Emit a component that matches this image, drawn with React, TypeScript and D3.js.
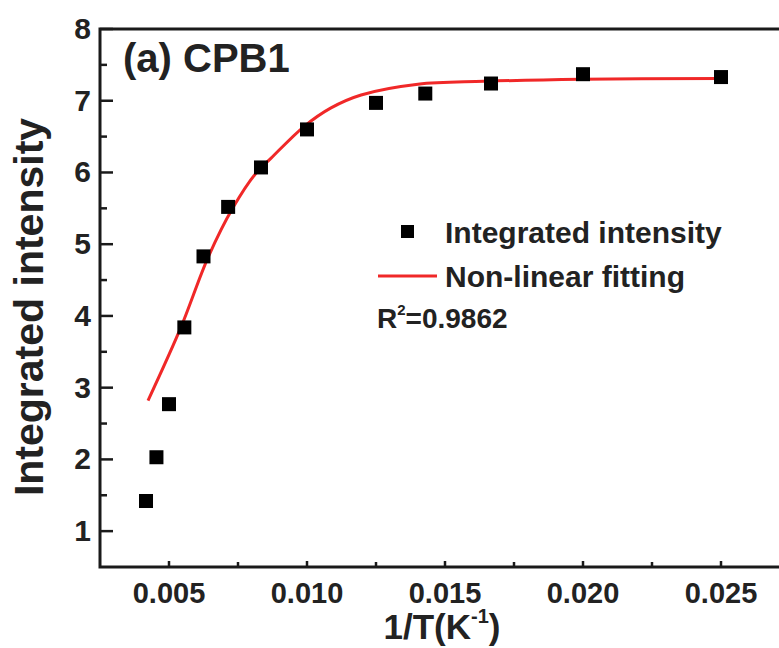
import React, { useEffect, useRef } from "react";
import * as d3 from "d3";

// measured points (1/T, integrated intensity)
const invT = [0.004167, 0.004545, 0.005, 0.005556, 0.00625, 0.007143, 0.008333, 0.01, 0.0125, 0.014286, 0.016667, 0.02, 0.025];
const intensity = [1.42, 2.03, 2.77, 3.84, 4.83, 5.52, 6.07, 6.6, 6.97, 7.1, 7.24, 7.37, 7.33];

// fitted curve
const fitX = [0.00424, 0.00543, 0.00641, 0.00732, 0.00815, 0.0087, 0.00989, 0.01087, 0.01196, 0.01402, 0.01641, 0.01993, 0.025];
const fitY = [2.82, 3.84, 4.81, 5.51, 5.99, 6.2, 6.64, 6.9, 7.08, 7.23, 7.27, 7.3, 7.31];

const xTicks = [0.005, 0.01, 0.015, 0.02, 0.025];
const yTicks = [1, 2, 3, 4, 5, 6, 7, 8];

const W = 779;
const H = 648;
const FONT = "'Liberation Sans', Arial, sans-serif";

const Chart = () => {
  const ref = useRef<SVGSVGElement | null>(null);

  useEffect(() => {
    const svg = d3.select(ref.current);
    svg.selectAll("*").remove();

    const x = d3.scaleLinear().domain([0.0025, 0.0275]).range([100, 790]);
    const y = d3.scaleLinear().domain([0.5, 8]).range([567, 29]);
    const axisColor = "#1a1a1a";

    // frame (top + left + bottom, right falls outside the picture)
    svg
      .append("rect")
      .attr("x", x(0.0025))
      .attr("y", y(8))
      .attr("width", x(0.0275) - x(0.0025))
      .attr("height", y(0.5) - y(8))
      .attr("fill", "none")
      .attr("stroke", axisColor)
      .attr("stroke-width", 3);

    // y ticks (inward)
    const yMinor = d3.range(1.5, 8, 1);
    svg
      .selectAll(".ymaj")
      .data(yTicks)
      .enter()
      .append("line")
      .attr("x1", x(0.0025))
      .attr("x2", x(0.0025) + 13)
      .attr("y1", (d) => y(d))
      .attr("y2", (d) => y(d))
      .attr("stroke", axisColor)
      .attr("stroke-width", 2.5);
    svg
      .selectAll(".ymin")
      .data(yMinor)
      .enter()
      .append("line")
      .attr("x1", x(0.0025))
      .attr("x2", x(0.0025) + 7)
      .attr("y1", (d) => y(d))
      .attr("y2", (d) => y(d))
      .attr("stroke", axisColor)
      .attr("stroke-width", 2.5);

    svg
      .selectAll(".ylab")
      .data(yTicks)
      .enter()
      .append("text")
      .attr("x", 91)
      .attr("y", (d) => y(d) + 10)
      .attr("text-anchor", "end")
      .attr("font-family", FONT)
      .attr("font-weight", "bold")
      .attr("font-size", 30)
      .attr("fill", "#222")
      .text((d) => d);

    // x ticks (inward)
    const xMinor = [0.0075, 0.0125, 0.0175, 0.0225];
    svg
      .selectAll(".xmaj")
      .data(xTicks)
      .enter()
      .append("line")
      .attr("x1", (d) => x(d))
      .attr("x2", (d) => x(d))
      .attr("y1", y(0.5))
      .attr("y2", y(0.5) - 6)
      .attr("stroke", axisColor)
      .attr("stroke-width", 2.5);
    svg
      .selectAll(".xmin")
      .data(xMinor)
      .enter()
      .append("line")
      .attr("x1", (d) => x(d))
      .attr("x2", (d) => x(d))
      .attr("y1", y(0.5))
      .attr("y2", y(0.5) - 5)
      .attr("stroke", axisColor)
      .attr("stroke-width", 2.5);

    svg
      .selectAll(".xlab")
      .data(xTicks)
      .enter()
      .append("text")
      .attr("x", (d) => x(d))
      .attr("y", 603)
      .attr("text-anchor", "middle")
      .attr("font-family", FONT)
      .attr("font-weight", "bold")
      .attr("font-size", 29)
      .attr("fill", "#222")
      .text((d) => d3.format(".3f")(d));

    // axis titles
    const xt = svg
      .append("text")
      .attr("x", 442)
      .attr("y", 639)
      .attr("text-anchor", "middle")
      .attr("font-family", FONT)
      .attr("font-weight", "bold")
      .attr("font-size", 35)
      .attr("fill", "#222");
    xt.append("tspan").text("1/T(K");
    xt.append("tspan").attr("font-size", 20).attr("dy", -16).text("-1");
    xt.append("tspan").attr("dy", 16).text(")");

    svg
      .append("text")
      .attr("transform", "translate(43,307) rotate(-90)")
      .attr("text-anchor", "middle")
      .attr("font-family", FONT)
      .attr("font-weight", "bold")
      .attr("font-size", 41)
      .attr("fill", "#222")
      .text("Integrated intensity");

    svg
      .append("text")
      .attr("x", 123)
      .attr("y", 72)
      .attr("font-family", FONT)
      .attr("font-weight", "bold")
      .attr("font-size", 40)
      .attr("fill", "#222")
      .text("(a) CPB1");

    // fitted line
    const fitData = fitX.map((v, i) => [v, fitY[i]] as [number, number]);
    const line = d3
      .line<[number, number]>()
      .x((d) => x(d[0]))
      .y((d) => y(d[1]))
      .curve(d3.curveCatmullRom.alpha(0.5));
    svg
      .append("path")
      .datum(fitData)
      .attr("fill", "none")
      .attr("stroke", "#f02828")
      .attr("stroke-width", 3)
      .attr("d", line);

    // points
    const s = 14;
    svg
      .selectAll(".pt")
      .data(invT.map((v, i) => [v, intensity[i]]))
      .enter()
      .append("rect")
      .attr("x", (d) => x(d[0]) - s / 2)
      .attr("y", (d) => y(d[1]) - s / 2)
      .attr("width", s)
      .attr("height", s)
      .attr("fill", "#000");

    // legend
    svg
      .append("rect")
      .attr("x", 401)
      .attr("y", 225)
      .attr("width", 13)
      .attr("height", 13)
      .attr("fill", "#000");
    svg
      .append("text")
      .attr("x", 445)
      .attr("y", 243)
      .attr("font-family", FONT)
      .attr("font-weight", "bold")
      .attr("font-size", 30)
      .attr("fill", "#222")
      .text("Integrated intensity");
    svg
      .append("line")
      .attr("x1", 378)
      .attr("x2", 437)
      .attr("y1", 276)
      .attr("y2", 276)
      .attr("stroke", "#f02828")
      .attr("stroke-width", 3);
    svg
      .append("text")
      .attr("x", 445)
      .attr("y", 287)
      .attr("font-family", FONT)
      .attr("font-weight", "bold")
      .attr("font-size", 30)
      .attr("fill", "#222")
      .text("Non-linear fitting");
    const r2 = svg
      .append("text")
      .attr("x", 377)
      .attr("y", 328)
      .attr("font-family", FONT)
      .attr("font-weight", "bold")
      .attr("font-size", 28)
      .attr("fill", "#222");
    r2.append("tspan").text("R");
    r2.append("tspan").attr("font-size", 15).attr("dy", -13).text("2");
    r2.append("tspan").attr("dy", 13).text("=0.9862");
  }, []);

  return (
    <svg
      ref={ref}
      width={W}
      height={H}
      style={{ position: "absolute", left: 0, top: 0, background: "#fff" }}
    />
  );
};

export default function App() {
  return <Chart />;
}
